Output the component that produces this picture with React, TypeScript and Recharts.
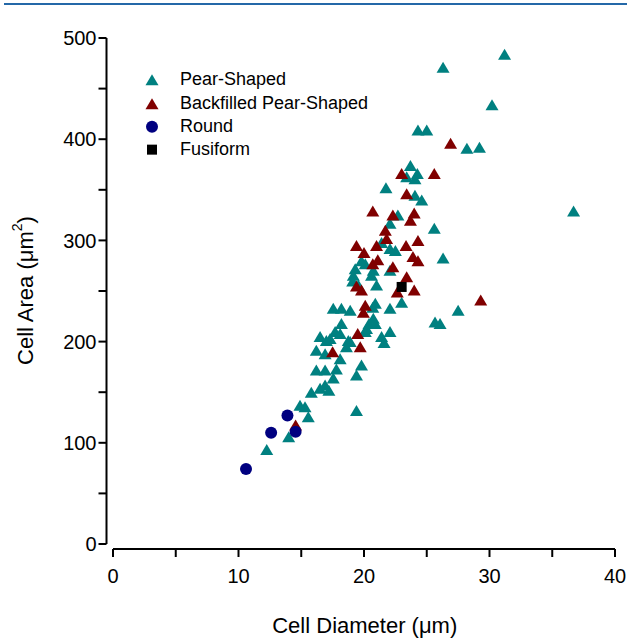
import React from 'react';
import { ScatterChart, Scatter, XAxis, YAxis, ReferenceLine, Legend, Label } from 'recharts';

// ---------- data ----------
const seriesNames = ['Pear-Shaped', 'Backfilled Pear-Shaped', 'Round', 'Fusiform'];
const xTicks = [0, 5, 10, 15, 20, 25, 30, 35, 40];
const yTicks = [0, 50, 100, 150, 200, 250, 300, 350, 400, 450, 500];

const pearShaped: [number, number][] = [
  [31.2, 484], [26.3, 471], [30.2, 434], [24.3, 409], [25.0, 409], [28.2, 391], [29.2, 392], [36.7, 329],
  [23.7, 374], [24.25, 366], [23.4, 363], [24.06, 361], [21.75, 352], [24.06, 344.5], [24.6, 340],
  [22.7, 325], [22.07, 317], [25.6, 312], [21.4, 298], [22.07, 292], [22.5, 290], [19.8, 280],
  [20.1, 277], [19.3, 272], [19.15, 265.5], [20.74, 270.5], [20.6, 265.5], [22.07, 270.5], [21.0, 256],
  [19.1, 260], [19.55, 256], [23.0, 239], [20.9, 238], [20.7, 234], [22.07, 233], [27.5, 231],
  [25.66, 219.4], [26.06, 218], [20.74, 223], [20.9, 218], [21.4, 205], [22.07, 210], [21.6, 199],
  [17.55, 233], [18.2, 233], [18.9, 231], [20.4, 218], [20.2, 213], [18.2, 218], [17.7, 210],
  [18.1, 208], [17.3, 203], [16.5, 205], [17.0, 201], [20.1, 210], [18.75, 201], [18.9, 200],
  [18.6, 195], [16.2, 191.5], [16.9, 188], [18.1, 183], [19.8, 177], [19.4, 167], [17.8, 173],
  [17.55, 164], [16.2, 172], [16.9, 172], [16.9, 157], [16.5, 154], [15.8, 150], [17.2, 152],
  [14.9, 137], [15.3, 135.5], [15.56, 125.7], [19.4, 132], [14.0, 106], [12.25, 93.5], [26.3, 282.6],
];

const backfilledPearShaped: [number, number][] = [
  [26.9, 396], [23.0, 366], [25.6, 366], [23.4, 346], [20.7, 329], [22.3, 325], [24.0, 327],
  [23.7, 320], [21.7, 310], [21.8, 302], [24.3, 300], [19.4, 295], [21.0, 295], [23.35, 295],
  [20.0, 288], [23.9, 284], [24.3, 280], [21.1, 281], [20.7, 277], [22.3, 274], [23.4, 264],
  [19.4, 255], [19.8, 251], [22.65, 249], [24.0, 251], [20.1, 236], [19.95, 229], [19.5, 208],
  [19.7, 195], [17.5, 190], [14.55, 117.5], [29.3, 241],
];

const round: [number, number][] = [
  [10.6, 74], [12.6, 110], [13.9, 127], [14.55, 111],
];

const fusiform: [number, number][] = [
  [23.0, 254],
];

// ---------- styling ----------
const FONT = '"Liberation Sans", Arial, sans-serif';
const TEAL = '#008080';
const DARKRED = '#800000';
const NAVY = '#000080';
const BLACK = '#000000';
const X_MIN = -0.518;
const Y_MIN = -4.94;

const toRows = (pts: [number, number][]) => pts.map(([x, y]) => ({ x, y }));

const triangleShape = (color: string) => (props: any) => {
  const { cx, cy } = props;
  return (
    <polygon
      points={`${cx},${cy - 5.5} ${cx - 6.5},${cy + 5.5} ${cx + 6.5},${cy + 5.5}`}
      fill={color}
    />
  );
};
const circleShape = (color: string) => (props: any) => {
  const { cx, cy } = props;
  return <circle cx={cx} cy={cy} r={6} fill={color} />;
};
const squareShape = (color: string) => (props: any) => {
  const { cx, cy } = props;
  return <rect x={cx - 5} y={cy - 5} width={10} height={10} fill={color} />;
};

const legendMarkers = [
  (c: number) => <polygon points={`12,${c - 5.5} 5.5,${c + 5.5} 18.5,${c + 5.5}`} fill={TEAL} />,
  (c: number) => <polygon points={`12,${c - 5.5} 5.5,${c + 5.5} 18.5,${c + 5.5}`} fill={DARKRED} />,
  (c: number) => <circle cx={12} cy={c} r={6} fill={NAVY} />,
  (c: number) => <rect x={7} y={c - 5} width={10} height={10} fill={BLACK} />,
];

const LegendContent = () => (
  <div style={{ fontFamily: FONT, fontSize: 18, color: '#000' }}>
    {seriesNames.map((name, i) => (
      <div key={name} style={{ display: 'flex', alignItems: 'center', height: 23.3, whiteSpace: 'nowrap' }}>
        <svg width={24} height={23.3} style={{ display: 'block' }}>
          {legendMarkers[i](11.65)}
        </svg>
        <span style={{ marginLeft: 16, lineHeight: '23.3px' }}>{name}</span>
      </div>
    ))}
  </div>
);

const XTitle = (props: any) => {
  const vb = props.viewBox || { x: 0, y: 0, width: 0, height: 0 };
  return (
    <text
      x={vb.x + vb.width / 2 + 4}
      y={vb.y + 84}
      textAnchor="middle"
      fontFamily={FONT}
      fontSize={22}
      fill="#000"
    >
      Cell Diameter (μm)
    </text>
  );
};

const YTitle = (props: any) => {
  const vb = props.viewBox || { x: 0, y: 0, width: 0, height: 0 };
  const cx = vb.x + 25;
  const cy = vb.y + vb.height / 2 - 3;
  return (
    <text
      x={cx}
      y={cy}
      transform={`rotate(-90, ${cx}, ${cy})`}
      textAnchor="middle"
      dominantBaseline="central"
      fontFamily={FONT}
      fontSize={22}
      fill="#000"
    >
      Cell Area (μm<tspan dy={-8} fontSize={14}>2</tspan><tspan dy={8}>)</tspan>
    </text>
  );
};

export default function App() {
  return (
    <div style={{ position: 'fixed', left: 0, top: 0, width: 631, height: 638, background: '#fff' }}>
      <div
        style={{ position: 'absolute', left: 4, top: 3, width: 623, height: 2, background: '#2468a8' }}
      />
      <ScatterChart
        width={631}
        height={638}
        margin={{ top: 38, right: 16, bottom: 0, left: 0 }}
        style={{ fontFamily: FONT }}
      >
        <XAxis
          type="number"
          dataKey="x"
          domain={[X_MIN, 40]}
          allowDataOverflow
          ticks={xTicks}
          interval={0}
          tickFormatter={(v: number) => (v % 10 === 0 ? String(v) : '')}
          axisLine={false}
          tickLine={{ stroke: '#000', strokeWidth: 2 }}
          tickSize={8}
          tickMargin={12}
          tick={{ fill: '#000', fontSize: 20, fontFamily: FONT }}
          height={89}
        >
          <Label content={<XTitle />} />
        </XAxis>
        <YAxis
          type="number"
          dataKey="y"
          domain={[Y_MIN, 500]}
          allowDataOverflow
          ticks={yTicks}
          interval={0}
          tickFormatter={(v: number) => (v % 100 === 0 ? String(v) : '')}
          axisLine={false}
          tickLine={{ stroke: '#000', strokeWidth: 2 }}
          tickSize={8}
          tickMargin={2}
          tick={{ fill: '#000', fontSize: 20, fontFamily: FONT }}
          width={106.5}
        >
          <Label content={<YTitle />} />
        </YAxis>
        <ReferenceLine
          segment={[{ x: X_MIN, y: 0 }, { x: X_MIN, y: 500 }]}
          stroke="#000"
          strokeWidth={2}
          ifOverflow="visible"
        />
        <ReferenceLine
          segment={[{ x: 0, y: Y_MIN }, { x: 40, y: Y_MIN }]}
          stroke="#000"
          strokeWidth={2}
          ifOverflow="visible"
        />
        <Legend
          layout="vertical"
          align="center"
          verticalAlign="middle"
          content={<LegendContent />}
          wrapperStyle={{ top: 68.35, left: 140, width: 'auto', height: 'auto' }}
        />
        <Scatter name={seriesNames[0]} data={toRows(pearShaped)} shape={triangleShape(TEAL)} isAnimationActive={false} />
        <Scatter name={seriesNames[1]} data={toRows(backfilledPearShaped)} shape={triangleShape(DARKRED)} isAnimationActive={false} />
        <Scatter name={seriesNames[2]} data={toRows(round)} shape={circleShape(NAVY)} isAnimationActive={false} />
        <Scatter name={seriesNames[3]} data={toRows(fusiform)} shape={squareShape(BLACK)} isAnimationActive={false} />
      </ScatterChart>
    </div>
  );
}
